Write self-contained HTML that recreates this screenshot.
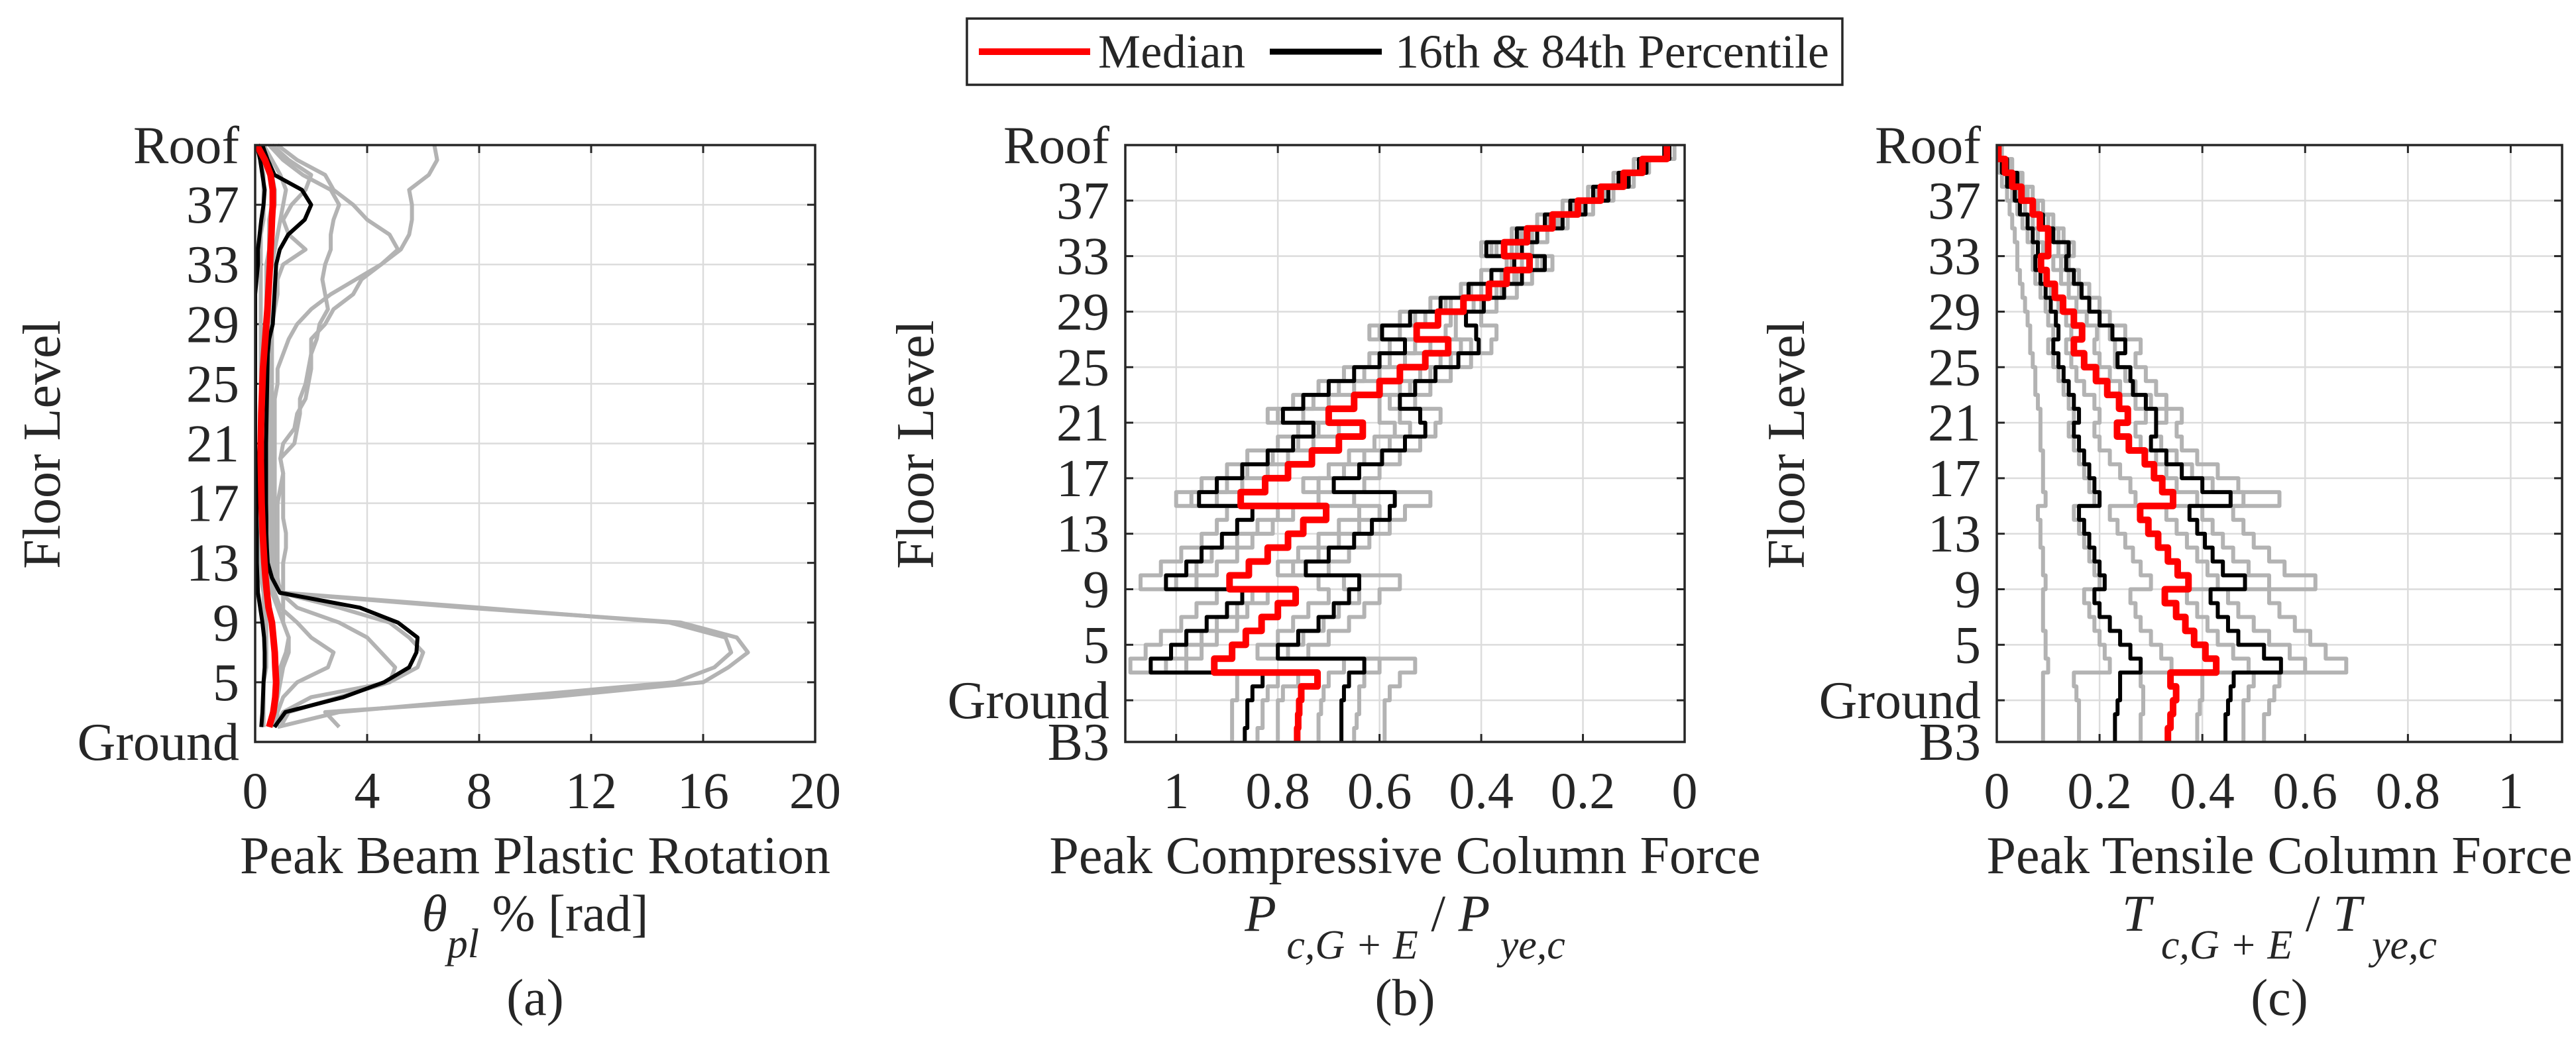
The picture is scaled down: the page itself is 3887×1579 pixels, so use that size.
<!DOCTYPE html>
<html><head><meta charset="utf-8"><style>
html,body{margin:0;padding:0;background:#fff}
svg{display:block}
text{font-family:"Liberation Serif",serif;fill:#262626}
</style></head><body>
<svg id="fig" width="3887" height="1579" viewBox="0 0 3887 1579" xmlns="http://www.w3.org/2000/svg">
<g id="legend">
<rect x="1459" y="28" width="1321" height="100" fill="#fff" stroke="#262626" stroke-width="3.5"/>
<line x1="1477" y1="78" x2="1645" y2="78" stroke="#ff0000" stroke-width="10"/>
<text x="1657" y="102" font-size="72" textLength="222">Median</text>
<line x1="1916" y1="78" x2="2085" y2="78" stroke="#000" stroke-width="9"/>
<text x="2105" y="102" font-size="72" textLength="655">16th &amp; 84th Percentile</text>
</g>
</svg>
<script>
// ---------- Panel (a) data: values at floors 41 down to 2 ----------
const aFloors = [41,40,39,38,37,36,35,34,33,32,31,30,29,28,27,26,25,24,23,22,21,20,19,18,17,16,15,14,13,12,11,10,9,8,7,6,5,4,3,2];
const aMedian = [0.06,0.35,0.55,0.63,0.63,0.6,0.58,0.55,0.53,0.5,0.47,0.44,0.4,0.36,0.32,0.28,0.26,0.24,0.22,0.21,0.2,0.2,0.21,0.22,0.23,0.25,0.27,0.3,0.33,0.37,0.42,0.48,0.6,0.65,0.7,0.72,0.75,0.72,0.65,0.5];
const aP84 = [0.26,0.45,0.69,1.67,2.0,1.77,1.18,0.88,0.75,0.72,0.69,0.66,0.63,0.5,0.45,0.44,0.43,0.42,0.41,0.4,0.39,0.39,0.39,0.39,0.39,0.4,0.4,0.42,0.45,0.6,0.88,3.74,5.1,5.8,5.76,5.5,4.6,3.15,1.08,0.69];
const aP16 = [0.06,0.18,0.26,0.34,0.3,0.22,0.16,0.1,0.1,0.05,0.0,0.0,0.0,0.0,0.0,0.0,0.0,0.0,0.0,0.0,0.0,0.02,0.03,0.04,0.05,0.05,0.06,0.06,0.06,0.08,0.1,0.18,0.26,0.32,0.34,0.34,0.3,0.28,0.26,0.22];
const aGray1 = [0.3,0.5,0.6,0.7,0.7,0.6,0.5,0.5,0.5,0.5,0.5,0.5,0.5,0.5,0.5,0.5,0.5,0.5,0.5,0.5,0.5,0.5,0.6,0.6,0.6,0.6,0.6,0.6,0.6,0.7,1.0,8.0,14.8,16.8,17.0,16.4,15.0,9.0,3.0,0.8];
const aGray2 = [0.2,0.4,0.5,0.6,0.6,0.5,0.5,0.5,0.4,0.4,0.4,0.4,0.4,0.4,0.4,0.4,0.4,0.4,0.4,0.4,0.4,0.4,0.5,0.5,0.5,0.5,0.5,0.5,0.5,0.6,0.9,7.5,15.2,17.2,17.6,16.9,16.0,10.5,2.5,3.0];
const aGray3 = [6.4,6.5,6.2,5.5,5.6,5.6,5.5,5.2,4.5,3.8,3.5,2.8,2.5,2.0,2.0,1.9,1.8,1.6,1.6,1.5,1.4,0.9,1.0,1.0,1.0,1.0,1.1,1.1,1.0,1.0,1.0,1.0,1.0,1.2,1.2,1.0,0.9,0.8,0.7,0.6];
const aGray4 = [0.8,1.5,2.5,2.8,3.5,4.0,4.8,5.1,4.5,3.6,2.7,2.0,1.5,1.2,1.0,0.8,0.8,0.7,0.7,0.7,0.7,0.7,0.7,0.7,0.7,0.7,0.7,0.7,0.7,0.7,0.9,3.0,4.8,5.5,6.0,5.8,4.8,3.0,1.2,0.9];
const aGray5 = [0.5,1.0,1.7,2.7,3.0,2.8,2.7,2.7,2.5,2.4,2.5,2.6,2.3,2.2,2.0,2.0,1.9,1.8,1.5,1.4,1.0,0.9,1.0,0.9,0.8,0.8,0.8,0.8,0.8,0.8,0.9,1.5,3.0,4.0,4.5,5.0,4.8,2.0,1.0,0.7];
const aGray6 = [0.6,1.2,2.0,1.8,1.3,1.0,1.2,1.8,1.0,0.8,0.8,0.7,0.6,0.6,0.6,0.6,0.6,0.6,0.6,0.6,0.6,0.6,0.6,0.6,0.6,0.6,0.6,0.6,0.6,0.6,0.7,0.9,1.5,2.0,2.8,2.6,1.5,1.0,0.8,0.7];
const aGray7 = [0.3,0.6,0.9,1.1,1.0,0.9,0.8,0.7,0.6,0.5,0.5,0.5,0.5,0.4,0.4,0.4,0.4,0.4,0.4,0.4,0.4,0.4,0.4,0.4,0.4,0.4,0.5,0.5,0.5,0.5,0.6,0.8,1.0,1.2,1.1,0.9,0.8,0.7,0.6,0.5];
const aGray8 = [0.1,0.2,0.3,0.3,0.3,0.3,0.2,0.2,0.2,0.2,0.2,0.2,0.2,0.2,0.2,0.2,0.2,0.2,0.2,0.2,0.2,0.2,0.2,0.2,0.2,0.2,0.2,0.2,0.2,0.2,0.3,0.3,0.4,0.4,0.4,0.4,0.3,0.3,0.3,0.3];
const aXTicks = [0,4,8,12,16,20];
const aYTicks = [41,37,33,29,25,21,17,13,9,5,1];
const aYLabels = ["Roof","37","33","29","25","21","17","13","9","5","Ground"];

// ---------- Panel (b) data: story values, top story (41-40) to bottom (-1 to -2) ----------
const bMedian = [0.035,0.083,0.12,0.165,0.21,0.26,0.31,0.355,0.305,0.35,0.385,0.435,0.485,0.527,0.465,0.51,0.56,0.6,0.65,0.70,0.633,0.68,0.733,0.78,0.825,0.873,0.705,0.75,0.78,0.82,0.857,0.895,0.765,0.8,0.832,0.863,0.89,0.925,0.722,0.754,0.758,0.76,0.762];
const bP84 = [0.04,0.09,0.13,0.18,0.225,0.275,0.33,0.39,0.335,0.38,0.425,0.48,0.54,0.595,0.55,0.6,0.65,0.7,0.75,0.79,0.73,0.77,0.82,0.87,0.92,0.955,0.85,0.88,0.91,0.95,0.98,1.02,0.87,0.9,0.94,0.98,1.01,1.05,0.83,0.85,0.86,0.86,0.865];
const bP16 = [0.03,0.075,0.11,0.15,0.195,0.24,0.29,0.32,0.275,0.32,0.355,0.395,0.43,0.41,0.405,0.445,0.49,0.53,0.56,0.52,0.51,0.55,0.595,0.64,0.69,0.57,0.58,0.615,0.65,0.7,0.745,0.64,0.66,0.69,0.72,0.76,0.80,0.63,0.66,0.67,0.675,0.675,0.675];
const bGray1 = [0.04,0.1,0.14,0.19,0.24,0.29,0.34,0.4,0.35,0.4,0.44,0.5,0.56,0.62,0.58,0.62,0.67,0.72,0.77,0.82,0.76,0.8,0.86,0.9,0.95,1.0,0.9,0.92,0.95,0.99,1.03,1.07,0.92,0.96,0.99,1.03,1.06,1.09,0.88,0.88,0.89,0.89,0.89];
const bGray2 = [0.02,0.07,0.1,0.14,0.18,0.23,0.27,0.3,0.26,0.3,0.33,0.37,0.4,0.37,0.38,0.42,0.46,0.5,0.53,0.48,0.49,0.52,0.56,0.6,0.63,0.5,0.55,0.58,0.62,0.66,0.7,0.56,0.6,0.63,0.66,0.7,0.74,0.53,0.56,0.58,0.59,0.59,0.59];
const bGray3 = [0.035,0.085,0.125,0.17,0.215,0.265,0.32,0.37,0.32,0.36,0.4,0.46,0.51,0.56,0.5,0.55,0.6,0.65,0.7,0.75,0.68,0.73,0.78,0.82,0.87,0.92,0.77,0.81,0.85,0.88,0.92,0.96,0.82,0.86,0.88,0.92,0.95,0.98,0.8,0.82,0.83,0.83,0.84];
const bGray4 = [0.03,0.08,0.115,0.16,0.2,0.25,0.3,0.34,0.29,0.335,0.37,0.415,0.46,0.47,0.44,0.48,0.52,0.56,0.6,0.6,0.57,0.61,0.66,0.7,0.75,0.72,0.64,0.68,0.72,0.76,0.8,0.72,0.7,0.74,0.77,0.8,0.84,0.67,0.7,0.71,0.715,0.72,0.72];
const bGray5 = [0.04,0.09,0.13,0.175,0.22,0.27,0.325,0.38,0.34,0.38,0.42,0.47,0.53,0.6,0.53,0.58,0.63,0.68,0.73,0.8,0.72,0.76,0.81,0.86,0.9,0.97,0.8,0.84,0.88,0.93,0.96,1.0,0.85,0.88,0.92,0.95,0.98,1.02,0.76,0.79,0.8,0.8,0.8];
const bGray6 = [0.03,0.075,0.11,0.155,0.2,0.245,0.29,0.33,0.28,0.33,0.36,0.4,0.45,0.45,0.42,0.46,0.5,0.54,0.58,0.56,0.54,0.58,0.63,0.67,0.72,0.65,0.6,0.64,0.68,0.72,0.77,0.67,0.64,0.68,0.71,0.75,0.78,0.6,0.63,0.64,0.64,0.645,0.65];
const bXTicks = [1,0.8,0.6,0.4,0.2,0];
const bXLabels = ["1","0.8","0.6","0.4","0.2","0"];

// ---------- Panel (c) data ----------
const cMedian = [0.003,0.016,0.03,0.048,0.07,0.084,0.1,0.1,0.086,0.097,0.113,0.129,0.15,0.166,0.15,0.17,0.193,0.215,0.238,0.255,0.234,0.257,0.288,0.306,0.322,0.343,0.279,0.295,0.314,0.333,0.352,0.373,0.327,0.349,0.367,0.384,0.406,0.427,0.338,0.349,0.343,0.338,0.333];
const cP84 = [0.005,0.02,0.04,0.05,0.07,0.09,0.11,0.14,0.135,0.15,0.165,0.18,0.2,0.225,0.25,0.235,0.26,0.265,0.29,0.31,0.31,0.3,0.33,0.36,0.4,0.455,0.375,0.39,0.405,0.42,0.44,0.483,0.416,0.43,0.45,0.47,0.52,0.553,0.461,0.455,0.45,0.445,0.445];
const cP16 = [0,0.01,0.02,0.035,0.045,0.06,0.07,0.08,0.075,0.085,0.095,0.105,0.115,0.12,0.11,0.12,0.13,0.14,0.15,0.16,0.15,0.16,0.17,0.18,0.19,0.2,0.16,0.17,0.18,0.19,0.2,0.21,0.19,0.2,0.22,0.24,0.26,0.28,0.24,0.24,0.235,0.23,0.23];
const cGray1 = [0,0.005,0.01,0.02,0.025,0.03,0.035,0.04,0.04,0.045,0.05,0.055,0.06,0.065,0.065,0.07,0.075,0.075,0.08,0.085,0.085,0.085,0.09,0.09,0.09,0.095,0.08,0.085,0.085,0.09,0.09,0.095,0.09,0.09,0.09,0.095,0.095,0.1,0.09,0.09,0.09,0.09,0.09];
const cGray2 = [0,0.01,0.02,0.03,0.04,0.05,0.06,0.07,0.07,0.075,0.085,0.095,0.1,0.11,0.1,0.11,0.12,0.13,0.14,0.15,0.14,0.15,0.16,0.17,0.18,0.19,0.15,0.16,0.17,0.18,0.19,0.2,0.17,0.18,0.19,0.2,0.21,0.22,0.15,0.155,0.16,0.16,0.16];
const cGray3 = [0.01,0.03,0.05,0.07,0.09,0.11,0.13,0.15,0.14,0.16,0.18,0.2,0.22,0.25,0.28,0.27,0.29,0.31,0.33,0.36,0.35,0.36,0.39,0.43,0.47,0.55,0.46,0.48,0.5,0.53,0.56,0.62,0.53,0.55,0.58,0.61,0.64,0.68,0.55,0.54,0.53,0.52,0.52];
const cGray4 = [0.005,0.02,0.035,0.055,0.075,0.09,0.11,0.12,0.11,0.125,0.14,0.155,0.175,0.195,0.19,0.2,0.22,0.24,0.27,0.29,0.27,0.28,0.31,0.33,0.35,0.39,0.33,0.35,0.37,0.39,0.41,0.43,0.37,0.39,0.41,0.43,0.46,0.49,0.4,0.4,0.395,0.39,0.39];
const cGray5 = [0,0.01,0.025,0.04,0.055,0.07,0.08,0.09,0.085,0.095,0.105,0.12,0.135,0.145,0.135,0.145,0.155,0.17,0.19,0.2,0.19,0.2,0.22,0.24,0.26,0.27,0.22,0.235,0.25,0.265,0.28,0.3,0.26,0.27,0.28,0.3,0.32,0.34,0.28,0.285,0.285,0.28,0.28];
const cGray6 = [0.008,0.025,0.045,0.06,0.08,0.1,0.12,0.135,0.125,0.14,0.16,0.18,0.2,0.22,0.23,0.23,0.25,0.27,0.3,0.33,0.31,0.32,0.35,0.38,0.42,0.48,0.4,0.42,0.44,0.46,0.49,0.53,0.45,0.47,0.5,0.53,0.57,0.6,0.5,0.49,0.48,0.48,0.48];
const cXTicks = [0,0.2,0.4,0.6,0.8,1];
const cXLabels = ["0","0.2","0.4","0.6","0.8","1"];
const bcYTicks = [41,37,33,29,25,21,17,13,9,5,1,-2];
const bcYLabels = ["Roof","37","33","29","25","21","17","13","9","5","Ground","B3"];

const NS = "http://www.w3.org/2000/svg";
const svg = document.getElementById('fig');
function mk(tag, attrs, parent){const e=document.createElementNS(NS,tag);for(const k in attrs)e.setAttribute(k,attrs[k]);(parent||svg).appendChild(e);return e;}

function panel(cfg){
  const g = mk('g',{});
  
  
  const L=cfg.left,R=cfg.right,T=cfg.top,B=cfg.bottom;
  const xs = v => cfg.reverse ? R-(v-cfg.xmin)/(cfg.xmax-cfg.xmin)*(R-L) : L+(v-cfg.xmin)/(cfg.xmax-cfg.xmin)*(R-L);
  const ys = f => T+(cfg.ymax-f)/(cfg.ymax-cfg.ymin)*(B-T);
  cfg.xTicks.forEach((t,i)=>{
    const gl = mk('line',{x1:xs(t),x2:xs(t),y1:T,y2:B,stroke:'#dcdcdc','stroke-width':2.5},g);
    
    
    const tl = mk('text',{x:xs(t),y:1220,'font-size':78,'text-anchor':'middle'},g);
    tl.textContent = cfg.xLabels[i];
    
    
    mk('line',{x1:xs(t),x2:xs(t),y1:B,y2:B-12,stroke:'#262626','stroke-width':3},g);
    mk('line',{x1:xs(t),x2:xs(t),y1:T,y2:T+12,stroke:'#262626','stroke-width':3},g);
  });
  cfg.yTicks.forEach((t,i)=>{
    const gl = mk('line',{x1:L,x2:R,y1:ys(t),y2:ys(t),stroke:'#dcdcdc','stroke-width':2.5},g);
    
    
    mk('line',{x1:L,x2:L+12,y1:ys(t),y2:ys(t),stroke:'#262626','stroke-width':3},g);
    mk('line',{x1:R,x2:R-12,y1:ys(t),y2:ys(t),stroke:'#262626','stroke-width':3},g);
    const tl = mk('text',{x:L-24,y:ys(t)+27,'font-size':80,'text-anchor':'end'},g);
    tl.textContent = cfg.yLabels[i];
    
    
  });
  const clip = 'clip-'+cfg.name;
  const cp = mk('clipPath',{id:clip},g);
  mk('rect',{x:L,y:T-6,width:R-L,height:B-T+6},cp);
  const lg = mk('g',{'clip-path':'url(#'+clip+')'},g);
  function draw(vals, color, w, nm){
    let d='';
    if(cfg.step){
      vals.forEach((v,i)=>{
        const ft=cfg.ymax-i, fb=cfg.ymax-i-1;
        d += (i===0?'M':'L')+xs(v)+' '+ys(ft)+' L'+xs(v)+' '+ys(fb)+' ';
      });
    } else {
      vals.forEach((v,i)=>{ d += (i===0?'M':'L')+xs(v)+' '+ys(cfg.floors[i])+' '; });
    }
    const p = mk('path',{d:d,fill:'none',stroke:color,'stroke-width':w,'stroke-linejoin':'round'},lg);
    
    
  }
  cfg.gray.forEach((s,i)=>draw(s,'#b3b3b3',6,'record-line-'+(i+1)));
  draw(cfg.p16,'#000',6,'p16-line');
  draw(cfg.p84,'#000',6,'p84-line');
  draw(cfg.median,'#ff0000',10,'median-line');
  const box = mk('rect',{x:L,y:T,width:R-L,height:B-T,fill:'none',stroke:'#262626','stroke-width':3.5},g);
  
  
  const yl = mk('text',{x:0,y:0,'font-size':80,'text-anchor':'middle',transform:'translate('+cfg.ylabX+',671) rotate(-90)'},g);
  yl.textContent='Floor Level';
  
  
  const cx=(L+R)/2;
  const xt = mk('text',{x:cx,y:1318,'font-size':80,'text-anchor':'middle'},g);
  xt.textContent=cfg.title;
  
  
  const cap = mk('text',{x:cx,y:1532,'font-size':78,'text-anchor':'middle'},g);
  cap.textContent=cfg.caption;
  
  
  const mt = mk('text',{x:cx,y:1405,'font-size':78,'text-anchor':'middle'},g);
  
  
  mt.innerHTML = cfg.formula;
}

panel({name:'panel-a-beam-rotation',left:385,right:1230,top:219,bottom:1120,xmin:0,xmax:20,ymin:1,ymax:41,
  reverse:false,step:false,floors:aFloors,xTicks:aXTicks,xLabels:aXTicks.map(String),yTicks:aYTicks,yLabels:aYLabels,
  gray:[aGray1,aGray2,aGray3,aGray4,aGray5,aGray6,aGray7,aGray8],p16:aP16,p84:aP84,median:aMedian,ylabX:90,
  title:'Peak Beam Plastic Rotation',caption:'(a)',
  formula:'<tspan font-style="italic">θ</tspan><tspan font-style="italic" font-size="62" dy="40">pl</tspan><tspan dy="-40"> % [rad]</tspan>'});
panel({name:'panel-b-compressive-force',left:1698,right:2542,top:219,bottom:1120,xmin:0,xmax:1.1,ymin:-2,ymax:41,
  reverse:true,step:true,xTicks:bXTicks,xLabels:bXLabels,yTicks:bcYTicks,yLabels:bcYLabels,
  gray:[bGray1,bGray2,bGray3,bGray4,bGray5,bGray6],p16:bP16,p84:bP84,median:bMedian,ylabX:1408,
  title:'Peak Compressive Column Force',caption:'(b)',
  formula:'<tspan font-style="italic">P</tspan><tspan font-style="italic" font-size="62" dy="42"> c,G + E</tspan><tspan dy="-42"> / </tspan><tspan font-style="italic">P</tspan><tspan font-style="italic" font-size="62" dy="42"> ye,c</tspan>'});
panel({name:'panel-c-tensile-force',left:3013,right:3866,top:219,bottom:1120,xmin:0,xmax:1.1,ymin:-2,ymax:41,
  reverse:false,step:true,xTicks:cXTicks,xLabels:cXLabels,yTicks:bcYTicks,yLabels:bcYLabels,
  gray:[cGray1,cGray2,cGray3,cGray4,cGray5,cGray6],p16:cP16,p84:cP84,median:cMedian,ylabX:2722,
  title:'Peak Tensile Column Force',caption:'(c)',
  formula:'<tspan font-style="italic">T</tspan><tspan font-style="italic" font-size="62" dy="42"> c,G + E</tspan><tspan dy="-42"> / </tspan><tspan font-style="italic">T</tspan><tspan font-style="italic" font-size="62" dy="42"> ye,c</tspan>'});
svg.appendChild(document.getElementById('legend'));
</script>
</body></html>
